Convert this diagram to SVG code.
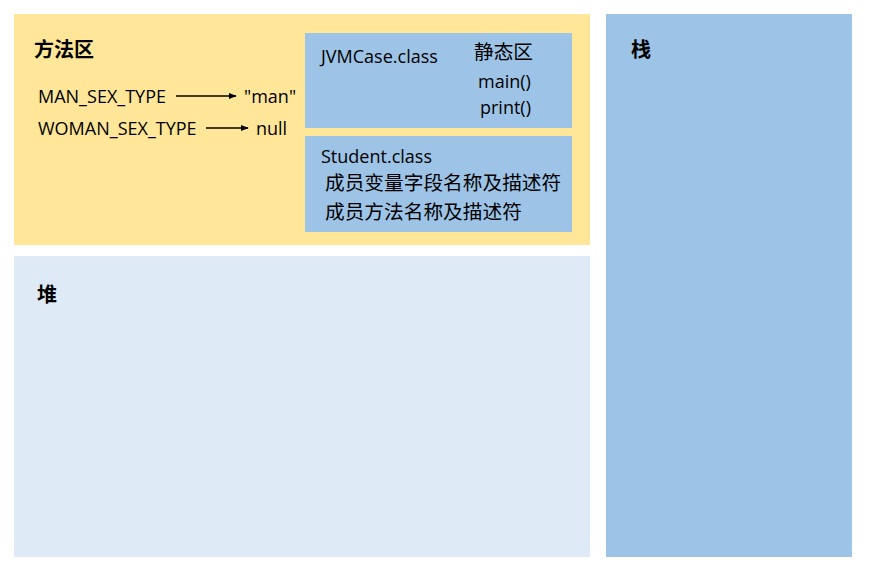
<svg xmlns="http://www.w3.org/2000/svg" width="870" height="571" viewBox="0 0 870 571">
<defs>
<style>
text{font-family:"Open Sans","Noto Sans CJK SC",sans-serif;fill:#000;}
.t{font-size:18px;}
.c{font-size:19.7px;font-family:"Noto Sans CJK SC",sans-serif;}
.h{font-size:20px;font-weight:bold;font-family:"Noto Sans CJK SC",sans-serif;}
.ln{stroke:#000;stroke-width:1.3;fill:none;}
</style>
<marker id="ar" viewBox="0 0 10 10" refX="9" refY="5" markerWidth="6" markerHeight="6" orient="auto"><path d="M0,1 L10,5 L0,9 z" fill="#000"/></marker>
</defs>
<rect width="870" height="571" fill="#fff"/>
<g id="method-area">
<rect x="14" y="14" width="576" height="231" fill="#FFE699"/>
<text class="h" x="34" y="57">方法区</text>
<text class="t" x="38" y="103">MAN_SEX_TYPE</text>
<text class="t" x="244" y="103">"man"</text>
<text class="t" x="38" y="135">WOMAN_SEX_TYPE</text>
<text class="t" x="256" y="135">null</text>
</g>
<g id="jvmcase">
<rect x="305" y="33" width="267" height="95" fill="#9DC3E6"/>
<text class="t" x="321" y="63">JVMCase.class</text>
<text class="c" x="474" y="59">静态区</text>
<text class="t" x="478" y="88">main()</text>
<text class="t" x="480" y="114">print()</text>
</g>
<g id="student">
<rect x="305" y="136" width="267" height="96" fill="#9DC3E6"/>
<text class="t" x="321" y="163">Student.class</text>
<text class="c" x="325" y="190">成员变量字段名称及描述符</text>
<text class="c" x="325" y="219">成员方法名称及描述符</text>
</g>
<g id="heap">
<rect x="14" y="256" width="576" height="301" fill="#DEEBF7"/>
<text class="h" x="37" y="302">堆</text>
</g>
<g id="stack">
<rect x="606" y="14" width="246" height="543" fill="#9DC3E6"/>
<text class="h" x="631" y="57">栈</text>
</g>
<g id="connectors">
<line class="ln" x1="176" y1="96" x2="236" y2="96" marker-end="url(#ar)"/>
<line class="ln" x1="206" y1="128" x2="248" y2="128" marker-end="url(#ar)"/>
</g>
</svg>
